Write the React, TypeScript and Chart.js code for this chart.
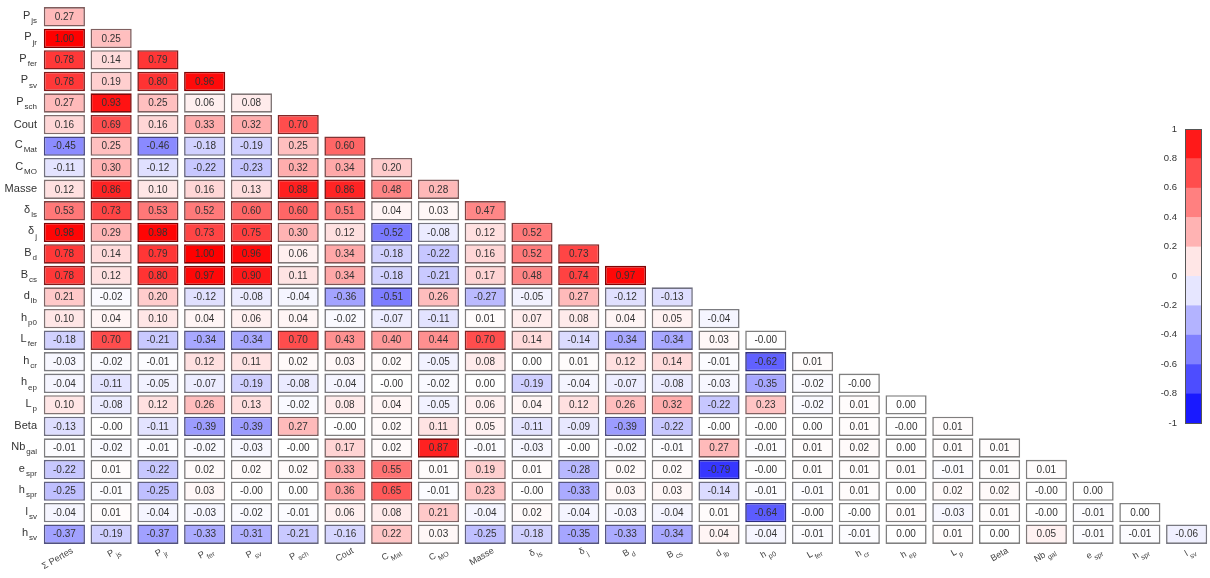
import React, { useEffect, useRef } from 'react';
import { Chart, registerables } from 'chart.js';
Chart.register(...registerables);

const rowLabels = ['P_js', 'P_jr', 'P_fer', 'P_sv', 'P_sch', 'Cout', 'C_Mat', 'C_MO', 'Masse', 'δ_ls', 'δ_j', 'B_d', 'B_cs', 'd_lb', 'h_p0', 'L_fer', 'h_cr', 'h_ep', 'L_p', 'Beta', 'Nb_gal', 'e_spr', 'h_spr', 'l_sv', 'h_sv'];
const colLabels = ['Σ Pertes', 'P_js', 'P_jr', 'P_fer', 'P_sv', 'P_sch', 'Cout', 'C_Mat', 'C_MO', 'Masse', 'δ_ls', 'δ_j', 'B_d', 'B_cs', 'd_lb', 'h_p0', 'L_fer', 'h_cr', 'h_ep', 'L_p', 'Beta', 'Nb_gal', 'e_spr', 'h_spr', 'l_sv'];

const rPjs = [0.27];
const rPjr = [1.00, 0.25];
const rPfer = [0.78, 0.14, 0.79];
const rPsv = [0.78, 0.19, 0.80, 0.96];
const rPsch = [0.27, 0.93, 0.25, 0.06, 0.08];
const rCout = [0.16, 0.69, 0.16, 0.33, 0.32, 0.70];
const rCMat = [-0.45, 0.25, -0.46, -0.18, -0.19, 0.25, 0.60];
const rCMO = [-0.11, 0.30, -0.12, -0.22, -0.23, 0.32, 0.34, 0.20];
const rMasse = [0.12, 0.86, 0.10, 0.16, 0.13, 0.88, 0.86, 0.48, 0.28];
const rDls = [0.53, 0.73, 0.53, 0.52, 0.60, 0.60, 0.51, 0.04, 0.03, 0.47];
const rDj = [0.98, 0.29, 0.98, 0.73, 0.75, 0.30, 0.12, -0.52, -0.08, 0.12, 0.52];
const rBd = [0.78, 0.14, 0.79, 1.00, 0.96, 0.06, 0.34, -0.18, -0.22, 0.16, 0.52, 0.73];
const rBcs = [0.78, 0.12, 0.80, 0.97, 0.90, 0.11, 0.34, -0.18, -0.21, 0.17, 0.48, 0.74, 0.97];
const rDlb = [0.21, -0.02, 0.20, -0.12, -0.08, -0.04, -0.36, -0.51, 0.26, -0.27, -0.05, 0.27, -0.12, -0.13];
const rHp0 = [0.10, 0.04, 0.10, 0.04, 0.06, 0.04, -0.02, -0.07, -0.11, 0.01, 0.07, 0.08, 0.04, 0.05, -0.04];
const rLfer = [-0.18, 0.70, -0.21, -0.34, -0.34, 0.70, 0.43, 0.40, 0.44, 0.70, 0.14, -0.14, -0.34, -0.34, 0.03, -0.00];
const rHcr = [-0.03, -0.02, -0.01, 0.12, 0.11, 0.02, 0.03, 0.02, -0.05, 0.08, 0.00, 0.01, 0.12, 0.14, -0.01, -0.62, 0.01];
const rHep = [-0.04, -0.11, -0.05, -0.07, -0.19, -0.08, -0.04, -0.00, -0.02, 0.00, -0.19, -0.04, -0.07, -0.08, -0.03, -0.35, -0.02, -0.00];
const rLp = [0.10, -0.08, 0.12, 0.26, 0.13, -0.02, 0.08, 0.04, -0.05, 0.06, 0.04, 0.12, 0.26, 0.32, -0.22, 0.23, -0.02, 0.01, 0.00];
const rBeta = [-0.13, -0.00, -0.11, -0.39, -0.39, 0.27, -0.00, 0.02, 0.11, 0.05, -0.11, -0.09, -0.39, -0.22, -0.00, -0.00, 0.00, 0.01, -0.00, 0.01];
const rNbgal = [-0.01, -0.02, -0.01, -0.02, -0.03, -0.00, 0.17, 0.02, 0.87, -0.01, -0.03, -0.00, -0.02, -0.01, 0.27, -0.01, 0.01, 0.02, 0.00, 0.01, 0.01];
const rEspr = [-0.22, 0.01, -0.22, 0.02, 0.02, 0.02, 0.33, 0.55, 0.01, 0.19, 0.01, -0.28, 0.02, 0.02, -0.79, -0.00, 0.01, 0.01, 0.01, -0.01, 0.01, 0.01];
const rHspr = [-0.25, -0.01, -0.25, 0.03, -0.00, 0.00, 0.36, 0.65, -0.01, 0.23, -0.00, -0.33, 0.03, 0.03, -0.14, -0.01, -0.01, 0.01, 0.00, 0.02, 0.02, -0.00, 0.00];
const rLsv = [-0.04, 0.01, -0.04, -0.03, -0.02, -0.01, 0.06, 0.08, 0.21, -0.04, 0.02, -0.04, -0.03, -0.04, 0.01, -0.64, -0.00, -0.00, 0.01, -0.03, 0.01, -0.00, -0.01, 0.00];
const rHsv = [-0.37, -0.19, -0.37, -0.33, -0.31, -0.21, -0.16, 0.22, 0.03, -0.25, -0.18, -0.35, -0.33, -0.34, 0.04, -0.04, -0.01, -0.01, 0.00, 0.01, 0.00, 0.05, -0.01, -0.01, -0.06];

const matrix = [rPjs, rPjr, rPfer, rPsv, rPsch, rCout, rCMat, rCMO, rMasse, rDls, rDj, rBd, rBcs, rDlb, rHp0, rLfer, rHcr, rHep, rLp, rBeta, rNbgal, rEspr, rHspr, rLsv, rHsv];

const colorbarTicks = [1, 0.8, 0.6, 0.4, 0.2, 0, -0.2, -0.4, -0.6, -0.8, -1];
const colorbarBins = [0.9, 0.7, 0.5, 0.3, 0.1, -0.1, -0.3, -0.5, -0.7, -0.9];

function rgbFor(v: number): [number, number, number] {
  if (v >= 0) {
    const c = Math.round(255 * (1 - v));
    return [255, c, c];
  }
  const c = Math.round(255 * (1 + v));
  return [c, c, 255];
}
function fillColor(v: number) {
  const [r, g, b] = rgbFor(v);
  return `rgb(${r},${g},${b})`;
}
function edgeColor(v: number) {
  const [r, g, b] = rgbFor(v);
  const f = 0.5;
  return `rgb(${Math.round(r * f)},${Math.round(g * f)},${Math.round(b * f)})`;
}
function fmt(v: number) {
  const neg = v < 0 || Object.is(v, -0);
  return (neg ? '-' : '') + Math.abs(v).toFixed(2);
}

const FONT = '"Liberation Sans", Arial, sans-serif';

function drawSubLabel(ctx: CanvasRenderingContext2D, lab: string, x: number, y: number, baseSize: number, subSize: number, color: string) {
  const parts = lab.split('_');
  const base = parts[0];
  const sub = parts[1];
  ctx.fillStyle = color;
  ctx.textAlign = 'left';
  ctx.textBaseline = 'middle';
  ctx.font = `${baseSize}px ${FONT}`;
  const wb = ctx.measureText(base).width;
  let ws = 0;
  if (sub) {
    ctx.font = `${subSize}px ${FONT}`;
    ws = ctx.measureText(sub).width + 1;
  }
  const start = x - (wb + ws);
  ctx.font = `${baseSize}px ${FONT}`;
  ctx.fillText(base, start, sub ? y - 1 : y);
  if (sub) {
    ctx.font = `${subSize}px ${FONT}`;
    ctx.fillText(sub, start + wb + 1, y + 4);
  }
}

const overlayPlugin = {
  id: 'corrOverlay',
  afterDatasetsDraw(chart: any) {
    const ctx: CanvasRenderingContext2D = chart.ctx;
    const xs = chart.scales.x;
    const ys = chart.scales.y;
    ctx.save();
    ctx.font = `10px ${FONT}`;
    ctx.fillStyle = '#333';
    ctx.textAlign = 'center';
    ctx.textBaseline = 'middle';
    matrix.forEach((row, i) => {
      row.forEach((v, j) => {
        ctx.fillText(fmt(v), xs.getPixelForValue(j), ys.getPixelForValue(i) + 0.5);
      });
    });
    rowLabels.forEach((lab, i) => {
      drawSubLabel(ctx, lab, 37, ys.getPixelForValue(i), 11, 8, '#333');
    });
    colLabels.forEach((lab, j) => {
      ctx.save();
      ctx.translate(xs.getPixelForValue(j) + 8, 550);
      ctx.rotate(-Math.PI / 6);
      drawSubLabel(ctx, lab, 0, 0, 9, 7, '#444');
      ctx.restore();
    });
    const cbX = 1185, cbW = 16, cbTop = 129, cbBot = 423;
    const step = (cbBot - cbTop) / colorbarBins.length;
    colorbarBins.forEach((v, k) => {
      ctx.fillStyle = fillColor(v);
      ctx.fillRect(cbX, cbTop + k * step, cbW, step + 0.5);
    });
    ctx.strokeStyle = '#555';
    ctx.lineWidth = 1;
    ctx.strokeRect(cbX + 0.5, cbTop + 0.5, cbW, cbBot - cbTop);
    ctx.font = `9.5px ${FONT}`;
    ctx.fillStyle = '#333';
    ctx.textAlign = 'right';
    ctx.textBaseline = 'middle';
    colorbarTicks.forEach((t, k) => {
      ctx.fillText(String(t), cbX - 8, cbTop + k * (cbBot - cbTop) / (colorbarTicks.length - 1));
    });
    ctx.restore();
  },
};

export default function App() {
  const canvasRef = useRef<HTMLCanvasElement | null>(null);
  useEffect(() => {
    document.body.style.margin = '0';
    const canvas = canvasRef.current;
    if (!canvas) return;
    const datasets = matrix.map((row, i) => ({
      label: rowLabels[i],
      data: colLabels.map((_, j) => (j < row.length ? [i - 0.45, i + 0.45] : null)),
      backgroundColor: colLabels.map((_, j) => (j < row.length ? fillColor(row[j]) : 'transparent')),
      borderColor: colLabels.map((_, j) => (j < row.length ? edgeColor(row[j]) : 'transparent')),
      borderWidth: 1.6,
      borderSkipped: false,
      grouped: false,
      barPercentage: 0.88,
      categoryPercentage: 1,
    }));
    const chart = new Chart(canvas, {
      type: 'bar',
      data: { labels: colLabels, datasets: datasets as any },
      options: {
        animation: false,
        responsive: true,
        maintainAspectRatio: false,
        layout: { padding: { left: 41, top: 6, right: 0, bottom: 33 } },
        plugins: { legend: { display: false }, tooltip: { enabled: false } },
        scales: {
          x: { type: 'category', display: false, offset: true, grid: { display: false } },
          y: { type: 'linear', display: false, min: -0.5, max: 24.5, reverse: true },
        },
      },
      plugins: [overlayPlugin],
    });
    return () => chart.destroy();
  }, []);
  return (
    <div style={{ width: 1210, height: 578, position: 'relative', background: '#fff' }}>
      <canvas ref={canvasRef} />
    </div>
  );
}
